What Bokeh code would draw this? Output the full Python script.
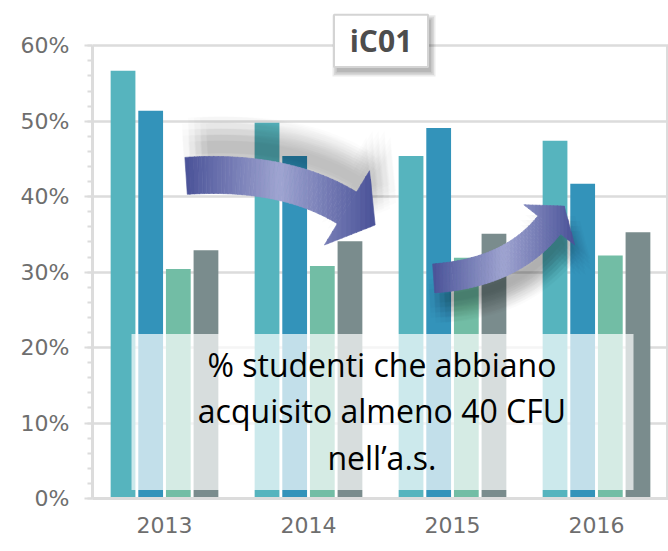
import numpy as np
from bokeh.plotting import figure
from bokeh.models import Range1d, FixedTicker, ColumnDataSource, PrintfTickFormatter
from bokeh.embed import file_html
from bokeh.resources import INLINE
from bokeh.core.properties import value

# ---------------- data ----------------
years = ["2013", "2014", "2015", "2016"]
series_a = [56.7, 49.8, 45.4, 47.4]   # teal
series_b = [51.4, 45.4, 49.1, 41.7]   # blue
series_c = [30.4, 30.8, 31.9, 32.2]   # green
series_d = [32.9, 34.1, 35.1, 35.3]   # gray
y_ticks = [0, 10, 20, 30, 40, 50, 60]
y_minor = list(range(0, 61, 2))
title_text = "iC01"
note_lines = ["% studenti che abbiano", "acquisito almeno 40 CFU", "nell\u2019a.s."]

bar_colors = ["#56B4BE", "#3393BA", "#72BDA5", "#7A8C8D"]
GRID = "#DCDCDC"

# ---------------- figure ----------------
W, H = 668, 551
BL, BB = 92, 53
X_END = len(years)
Y_END = 66.0
SX = (W - BL) / X_END
SY = (H - BB) / Y_END

p = figure(width=W, height=H, output_backend="svg", toolbar_location=None,
           x_range=Range1d(0, X_END), y_range=Range1d(0, Y_END),
           min_border_left=BL, min_border_right=0, min_border_top=0,
           min_border_bottom=BB)
p.outline_line_color = None
p.background_fill_color = "white"
p.border_fill_color = "white"

# grid
p.xgrid.visible = False
p.ygrid.ticker = FixedTicker(ticks=y_ticks)
p.ygrid.grid_line_color = GRID
p.ygrid.grid_line_width = 2.5

# y axis
ya = p.yaxis[0]
ya.ticker = FixedTicker(ticks=y_ticks, minor_ticks=y_minor)
ya.formatter = PrintfTickFormatter(format="%d%%")
ya.bounds = (0, max(y_ticks))
ya.axis_line_color = GRID
ya.axis_line_width = 3
ya.major_tick_line_color = GRID
ya.major_tick_line_width = 2
ya.major_tick_out = 8
ya.major_tick_in = 0
ya.minor_tick_line_color = GRID
ya.minor_tick_line_width = 2
ya.minor_tick_out = 5
ya.minor_tick_in = 0
ya.major_label_standoff = 15
ya.major_label_text_font = "DejaVu Sans"
ya.major_label_text_font_size = "22px"
ya.major_label_text_color = "#6E6E6E"

# x axis
xa = p.xaxis[0]
centers = [i + 0.5 for i in range(len(years))]
xa.ticker = FixedTicker(ticks=centers)
xa.major_label_overrides = {c: y for c, y in zip(centers, years)}
xa.axis_line_color = GRID
xa.axis_line_width = 3
xa.major_tick_line_color = None
xa.minor_tick_line_color = None
xa.major_tick_out = 0
xa.major_label_standoff = 18
xa.major_label_text_font = "DejaVu Sans"
xa.major_label_text_font_size = "22px"
xa.major_label_text_color = "#6E6E6E"

# right border of the plot box
p.segment(x0=[len(years)], y0=[0], x1=[len(years)], y1=[max(y_ticks)],
          line_color=GRID, line_width=5)

# ---------------- bars ----------------
BAR_W = 0.172
STEP = 0.192
all_series = [series_a, series_b, series_c, series_d]
for k, (vals, col) in enumerate(zip(all_series, bar_colors)):
    off = (k - 1.5) * STEP
    src = ColumnDataSource(dict(x=[c + off for c in centers], top=vals))
    p.vbar(x="x", top="top", width=BAR_W, bottom=0, source=src,
           fill_color=col, line_color=None)

# ---------------- arrows ----------------
def to_px(pt):
    return np.array([pt[0] * SX, pt[1] * SY], dtype=float)

def arrow_geom(p0, p1, p2, hw, hhw, hl, n=48):
    P0, P1, P2 = to_px(p0), to_px(p1), to_px(p2)
    u = np.linspace(0, 1, n + 1)[:, None]
    C = (1 - u) ** 2 * P0 + 2 * (1 - u) * u * P1 + u ** 2 * P2
    T = 2 * (1 - u) * (P1 - P0) + 2 * u * (P2 - P1)
    T = T / np.linalg.norm(T, axis=1)[:, None]
    N = np.stack([-T[:, 1], T[:, 0]], axis=1)
    L = C + hw * N
    R = C - hw * N
    quads = [np.array([L[i], L[i + 1], R[i + 1], R[i]]) for i in range(n)]
    head = np.array([C[-1] + hhw * N[-1], C[-1] + hl * T[-1], C[-1] - hhw * N[-1]])
    outline = np.vstack([L, head, R[::-1]])
    return quads + [head], outline

def clip_strip(poly, x0, x1):
    def half(pts, keep, xv):
        out = []
        n = len(pts)
        for i in range(n):
            a, b = pts[i], pts[(i + 1) % n]
            ka, kb = keep(a), keep(b)
            if ka:
                out.append(a)
            if ka != kb:
                t = (xv - a[0]) / (b[0] - a[0])
                out.append(a + t * (b - a))
        return out
    pts = list(poly)
    pts = half(pts, lambda q: q[0] >= x0, x0)
    if len(pts) < 3:
        return None
    pts = half(pts, lambda q: q[0] <= x1, x1)
    if len(pts) < 3:
        return None
    return np.array(pts)

DARK = np.array([74, 82, 152])
LIGHT = np.array([160, 165, 209])

def hexc(c):
    c = np.clip(np.round(c), 0, 255).astype(int)
    return "#%02X%02X%02X" % tuple(c)

def draw_shadow(outline, dx, dy, blur, core_alpha):
    offs = []
    step = blur / 2.0
    for i in range(-2, 3):
        for j in range(-2, 3):
            if (i * i + j * j) <= 5:
                offs.append((i * step, j * step))
    a = 1 - (1 - core_alpha) ** (1.0 / len(offs))
    xs, ys = [], []
    for ox, oy in offs:
        xs.append(list((outline[:, 0] + dx + ox) / SX))
        ys.append(list((outline[:, 1] + dy + oy) / SY))
    p.patches(xs=xs, ys=ys, fill_color="black", fill_alpha=a, line_color=None)

def draw_arrow(pieces, outline, nstrips=40):
    xmin, xmax = outline[:, 0].min(), outline[:, 0].max()
    edges = np.linspace(xmin, xmax, nstrips + 1)
    xs, ys, cols = [], [], []
    for s in range(nstrips):
        x0, x1 = edges[s], edges[s + 1] + 0.6
        t = ((x0 + edges[s + 1]) / 2 - xmin) / (xmax - xmin)
        f = 1 - abs(2 * t - 1)
        col = hexc(DARK + (LIGHT - DARK) * f)
        for pc in pieces:
            cp = clip_strip(pc, x0, x1)
            if cp is not None:
                xs.append(list(cp[:, 0] / SX))
                ys.append(list(cp[:, 1] / SY))
                cols.append(col)
    src = ColumnDataSource(dict(xs=xs, ys=ys, c=cols))
    p.patches(xs="xs", ys="ys", source=src, fill_color="c", line_color="c",
              line_width=0.6)

# arrow anchors in data units (start, control, end of body) + sizes in px
arrow1 = dict(p0=(0.650, 42.76), p1=(1.329, 43.60), p2=(1.767, 38.52), hw=18.5, hhw=43.5, hl=33)
arrow2 = dict(p0=(2.369, 29.17), p1=(2.908, 29.90), p2=(3.172, 36.26), hw=14.5, hhw=32.5, hl=24)

pc1, ol1 = arrow_geom(**arrow1)
pc2, ol2 = arrow_geom(**arrow2)
draw_shadow(ol1, 9, 28, 12, 0.25)
draw_shadow(ol2, 6, -20, 10, 0.27)
draw_arrow(pc1, ol1)
draw_arrow(pc2, ol2)

# ---------------- title box ----------------
tb = dict(left=1.677, right=2.330, top=64.1, bottom=57.2)
for k in range(4):
    e = k * 1.5
    p.quad(left=[tb["left"] + (3 - e) / SX], right=[tb["right"] + (3 + e) / SX],
           top=[tb["top"] - (5 - e) / SY], bottom=[tb["bottom"] - (5 + e) / SY],
           fill_color="black", fill_alpha=0.08, line_color=None)
p.quad(left=[tb["left"]], right=[tb["right"]], top=[tb["top"]], bottom=[tb["bottom"]],
       fill_color="white", line_color="#D4D4D4", line_width=2)
p.text(x=[(tb["left"] + tb["right"]) / 2], y=[(tb["top"] + tb["bottom"]) / 2],
       text=[title_text], text_font=value("Open Sans"), text_font_style="bold",
       text_font_size="30px", text_color="#4D4D4D", text_align="center",
       text_baseline="middle")

# ---------------- note box ----------------
nb = dict(left=0.271, right=3.757, top=21.8, bottom=1.13)
p.quad(left=[nb["left"]], right=[nb["right"]], top=[nb["top"]], bottom=[nb["bottom"]],
       fill_color="white", fill_alpha=0.7, line_color=None)
note_x = [2.01] * len(note_lines)
note_y = [17.8, 11.6, 5.4]
p.text(x=note_x, y=note_y, text=note_lines, text_font=value("Open Sans"),
       text_font_size="32px", text_color="black", text_align="center",
       text_baseline="middle")

open("out.html", "w").write(file_html(p, INLINE))
